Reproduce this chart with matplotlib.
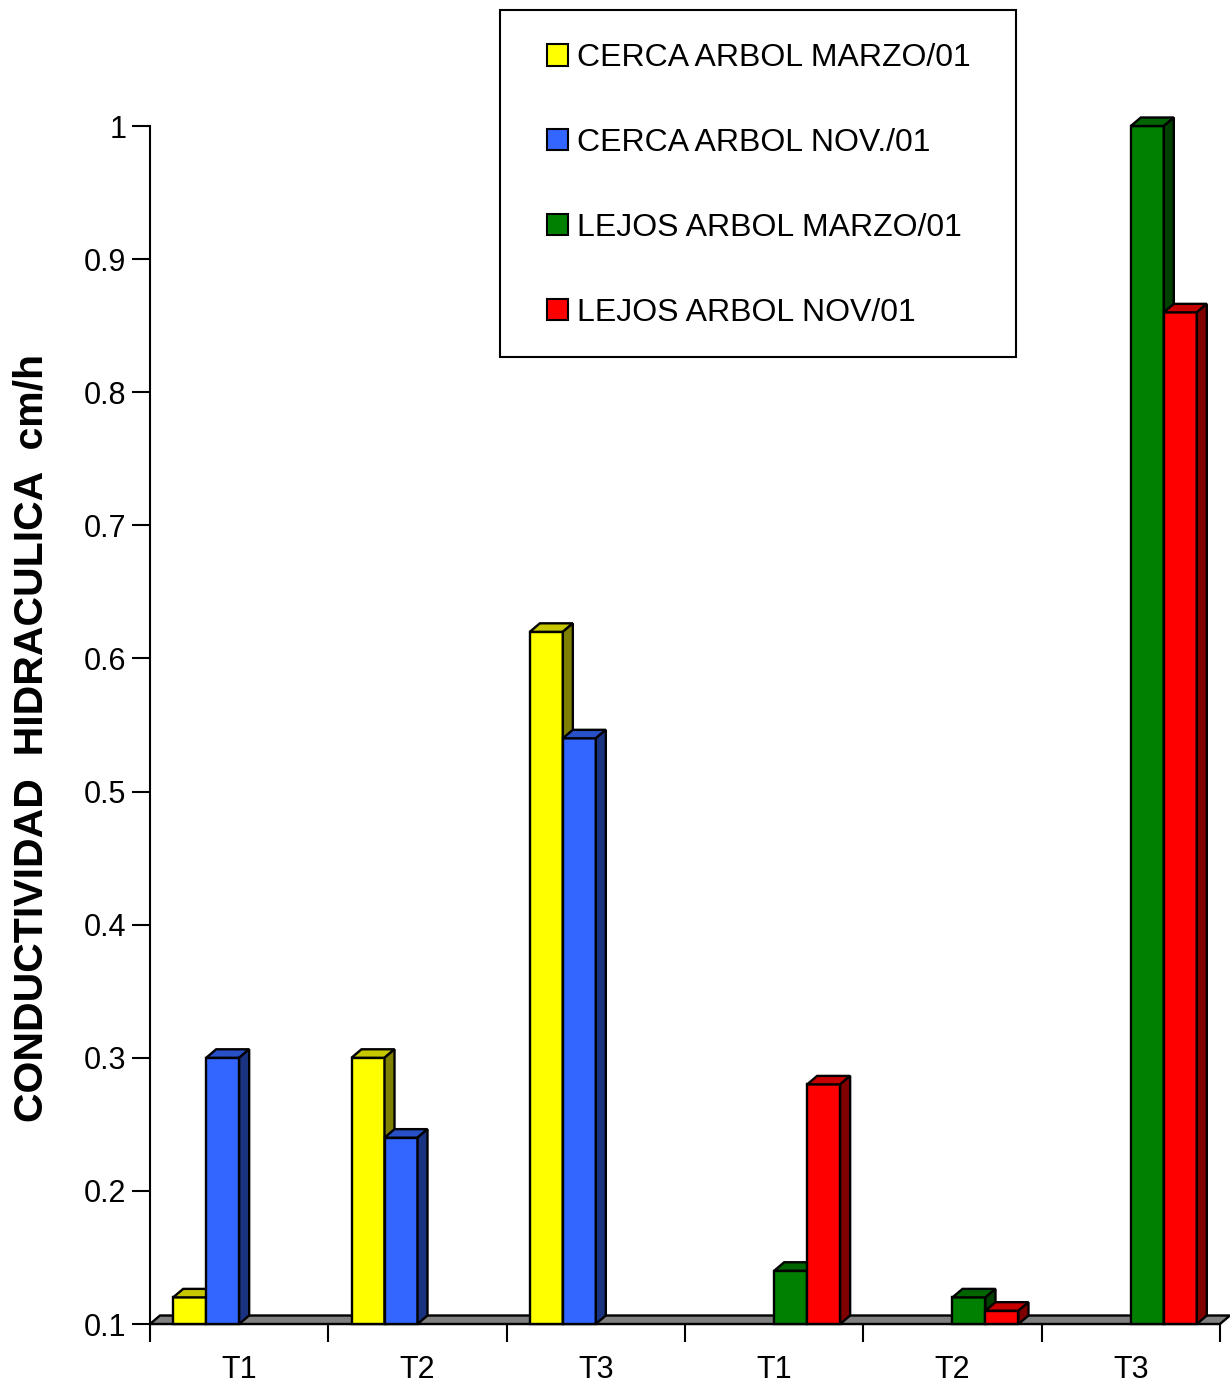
import matplotlib
matplotlib.use('Agg')
import matplotlib.pyplot as plt
from matplotlib.patches import Polygon, Patch, Rectangle
from matplotlib.colors import to_rgb
import numpy as np

# data (None = no bar in that group)
categories = ['T1', 'T2', 'T3', 'T1', 'T2', 'T3']
series_names = ['CERCA ARBOL MARZO/01', 'CERCA ARBOL NOV./01',
                'LEJOS ARBOL MARZO/01', 'LEJOS ARBOL NOV/01']
cerca_marzo = [0.12, 0.30, 0.62, None, None, None]
cerca_nov = [0.30, 0.24, 0.54, None, None, None]
lejos_marzo = [None, None, None, 0.14, 0.12, 1.00]
lejos_nov = [None, None, None, 0.28, 0.11, 0.86]
yticks = [0.1, 0.2, 0.3, 0.4, 0.5, 0.6, 0.7, 0.8, 0.9, 1]

colors = ['#FFFF00', '#3366FF', '#008000', '#FF0000']

YMIN, YMAX = 0.1, 1.0
W, H = 1230, 1386


def shade(c, f):
    r, g, b = to_rgb(c)
    return (r * f, g * f, b * f)


def main():
    plt.rcParams['font.family'] = ['Liberation Sans', 'DejaVu Sans']

    fig = plt.figure(figsize=(W / 100, H / 100), dpi=100)
    ax_w = 1070 / W
    ax_h = 1198 / H
    ax = fig.add_axes([150 / W, 62 / H, ax_w, ax_h])
    ax.set_xlim(-0.5, len(categories) - 0.5)
    ax.set_ylim(YMIN, YMAX)

    # 3d depth in data units (about 10px right, 8.5px up)
    dx = 10 * len(categories) / 1070
    dy = 8.5 * (YMAX - YMIN) / 1198

    # gray floor
    x0, x1 = -0.5, len(categories) - 0.5
    floor = Polygon([(x0, YMIN), (x1, YMIN), (x1 + dx, YMIN + dy), (x0 + dx, YMIN + dy)],
                    closed=True, facecolor='#808080', edgecolor='black', lw=1.7,
                    clip_on=False, zorder=1)
    ax.add_patch(floor)

    all_series = [cerca_marzo, cerca_nov, lejos_marzo, lejos_nov]
    width = 0.185
    x = np.arange(len(categories))
    z = 2
    for k in range(len(categories)):
        for i, vals in enumerate(all_series):
            v = vals[k]
            if v is None:
                continue
            left = x[k] + (i - 1.5) * width - width / 2
            right = left + width
            ax.bar(left, v - YMIN, width=width, bottom=YMIN, align='edge',
                   color=colors[i], edgecolor='black', lw=1.7, zorder=z, clip_on=False)
            top = Polygon([(left, v), (right, v), (right + dx, v + dy), (left + dx, v + dy)],
                          closed=True, facecolor=shade(colors[i], 0.78), edgecolor='black',
                          lw=1.7, zorder=z, clip_on=False)
            side = Polygon([(right, YMIN), (right + dx, YMIN + dy), (right + dx, v + dy), (right, v)],
                           closed=True, facecolor=shade(colors[i], 0.5), edgecolor='black',
                           lw=1.7, zorder=z, clip_on=False)
            ax.add_patch(top)
            ax.add_patch(side)
            z += 1

    # axes look
    ax.spines['top'].set_visible(False)
    ax.spines['right'].set_visible(False)
    ax.spines['left'].set_linewidth(1.5)
    ax.spines['bottom'].set_linewidth(1.5)
    ax.spines['bottom'].set_zorder(0)

    ax.set_yticks(yticks)
    ax.set_yticklabels([('%g' % t) for t in yticks])
    ax.tick_params(axis='y', length=13, width=1.5, pad=4, labelsize=22)

    ax.set_xticks(x)
    ax.set_xticklabels(categories)
    ax.set_xticks(np.arange(-0.5, len(categories), 1), minor=True)
    ax.tick_params(axis='x', which='major', length=0, pad=22, labelsize=22)
    ax.tick_params(axis='x', which='minor', length=13, width=1.5)

    fig.text(32 / W, 1 - 738 / H, 'CONDUCTIVIDAD  HIDRACULICA  cm/h', rotation=90,
             fontsize=29.5, fontweight='bold', ha='center', va='center')

    # legend with a hand drawn box
    handles = [Patch(facecolor=c, edgecolor='black', lw=1.5) for c in colors]
    fig.legend(handles, series_names, loc='upper left',
               bbox_to_anchor=(531 / W, 1 - 27 / H), frameon=False, fontsize=23,
               borderpad=0, handlelength=0.66, handleheight=0.66,
               handletextpad=0.28, labelspacing=1.72)
    fig.patches.append(Rectangle((500 / W, 1 - 357 / H), 516 / W, 347 / H,
                                 transform=fig.transFigure, fill=False,
                                 edgecolor='black', lw=1.5))

    fig.savefig('out.png', dpi=100)


if __name__ == '__main__':
    main()
